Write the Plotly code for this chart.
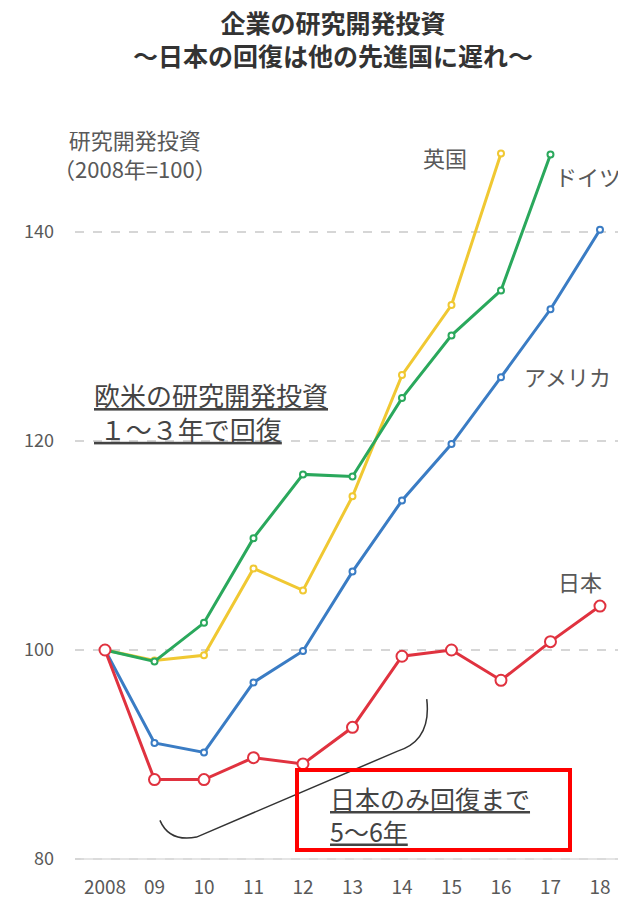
import plotly.graph_objects as go

years = [2008, 2009, 2010, 2011, 2012, 2013, 2014, 2015, 2016, 2017, 2018]
tick_labels = ["2008", "09", "10", "11", "12", "13", "14", "15", "16", "17", "18"]

japan = [100, 87.6, 87.6, 89.7, 89.1, 92.6, 99.4, 100.0, 97.1, 100.8, 104.2]
usa = [100, 91.1, 90.2, 96.9, 99.9, 107.5, 114.3, 119.7, 126.1, 132.6, 140.2]
germany = [100, 98.9, 102.6, 110.7, 116.8, 116.6, 124.1, 130.1, 134.4, 147.4]
uk = [100, 99.0, 99.5, 107.8, 105.7, 114.7, 126.3, 133.0, 147.5]

FONT = "Noto Sans CJK JP"
GRAY = "#595959"

L, T, W, H = 75, 95, 543, 775

def px(x):
    return (x - L) / W

def py(y):
    return 1 - (y - T) / H

fig = go.Figure()

def add(name, xs, ys, color, msize, width):
    fig.add_trace(go.Scatter(
        x=xs, y=ys, mode="lines+markers", name=name,
        line=dict(color=color, width=width),
        marker=dict(symbol="circle", size=msize, color="white",
                    line=dict(color=color, width=2)),
        showlegend=False, cliponaxis=False))

add("英国", years[:len(uk)], uk, "#f0c832", 6, 3)
add("ドイツ", years[:len(germany)], germany, "#2aa85c", 6, 3)
add("アメリカ", years, usa, "#3a7cc4", 6, 3)
add("日本", years, japan, "#e0323f", 11, 3)

# curly bracket
fig.add_shape(type="path",
              path="M 2009.11,83.7 Q 2009.3,81.6 2009.85,82.1 L 2013.9,90.3 Q 2014.6,91.3 2014.5,95.3",
              line=dict(color="#333333", width=1.5), xref="x", yref="y")
# red box
fig.add_shape(type="rect", xref="paper", yref="paper",
              x0=px(297), x1=px(570), y0=py(850), y1=py(770),
              line=dict(color="#ff0000", width=4), fillcolor="rgba(0,0,0,0)")
# base line at 80
fig.add_shape(type="line", xref="paper", yref="y", x0=0.01, x1=1, y0=80, y1=80,
              line=dict(color="#dddddd", width=1.5))

annos = [
    dict(text="<b>企業の研究開発投資<br>～日本の回復は他の先進国に遅れ～</b>", x=333, y=38, size=25,
         color="#333333", align="center", xa="center"),
    dict(text="研究開発投資<br>（2008年=100）", x=135, y=153, size=22, color=GRAY, align="center", xa="center"),
    dict(text="英国", x=445, y=157, size=22, color=GRAY, align="center", xa="center"),
    dict(text="ドイツ", x=553, y=176, size=22, color=GRAY, align="left", xa="left"),
    dict(text="アメリカ", x=522, y=376, size=22, color=GRAY, align="left", xa="left"),
    dict(text="日本", x=580, y=581, size=22, color=GRAY, align="center", xa="center"),
    dict(text="<u>欧米の研究開発投資</u><br><u> １～３年で回復</u>", x=92, y=411, size=26,
         color="#444444", align="left", xa="left"),
    dict(text="<u>日本のみ回復まで</u><br><u>5～6年</u>", x=328, y=814, size=25,
         color="#444444", align="left", xa="left"),
]
for a in annos:
    fig.add_annotation(text=a["text"], xref="paper", yref="paper",
                       x=px(a["x"]), y=py(a["y"]),
                       xanchor=a["xa"], yanchor="middle", showarrow=False,
                       align=a["align"], font=dict(family=FONT, size=a["size"], color=a["color"]))

fig.update_layout(
    width=618, height=902,
    margin=dict(l=L, r=0, t=T, b=902 - T - H),
    paper_bgcolor="white", plot_bgcolor="white",
    font=dict(family=FONT),
)
fig.update_xaxes(range=[2007.394, 2018.364], tickvals=years, ticktext=tick_labels,
                 showgrid=False, zeroline=False, showline=False,
                 tickfont=dict(family=FONT, size=19, color=GRAY), ticklabelstandoff=4)
fig.update_yaxes(range=[78.95, 153.1], tickvals=[80, 100, 120, 140],
                 showgrid=True, gridcolor="#d6d6d6", griddash="dash", gridwidth=1.5,
                 zeroline=False, showline=False,
                 tickfont=dict(family=FONT, size=18, color=GRAY), ticklabelstandoff=20)

fig.write_html("out.html")
